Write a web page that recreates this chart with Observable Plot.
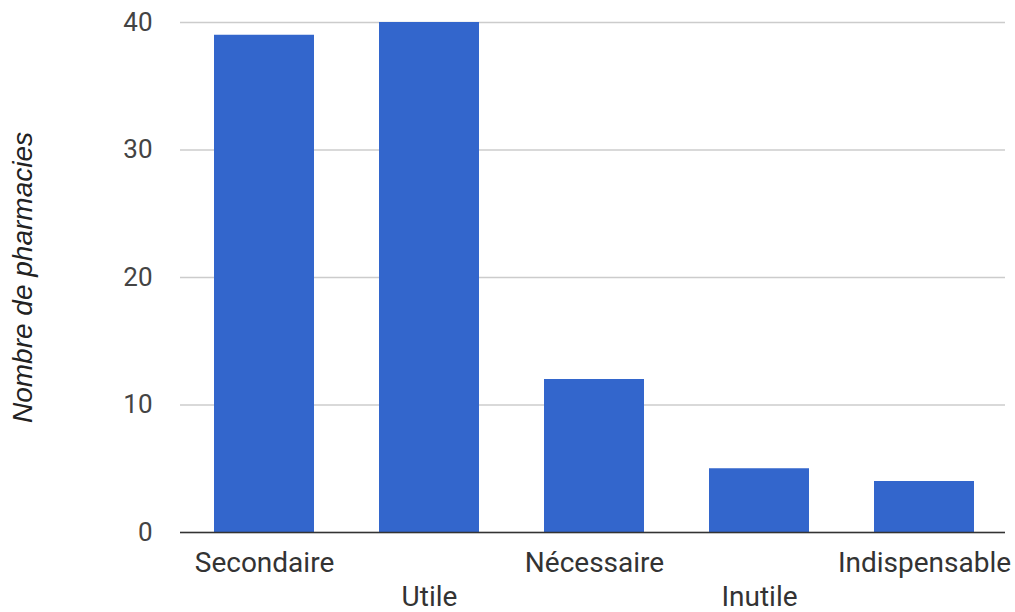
<!DOCTYPE html>
<html><head><meta charset="utf-8">
<script src="https://cdn.jsdelivr.net/npm/d3@7"></script>
<script src="https://cdn.jsdelivr.net/npm/@observablehq/plot@0.6"></script>
<style>body{margin:0;background:#fff}</style>
</head><body><div id="chart"></div>
<script>
const categories = ["Secondaire", "Utile", "Nécessaire", "Inutile", "Indispensable"];
const values = [39, 40, 12, 5, 4];
const yTicks = [0, 10, 20, 30, 40];
const yLabel = "Nombre de pharmacies";

const data = categories.map((c, i) => ({category: c, value: values[i]}));
const upper = categories.filter((c, i) => i % 2 === 0);
const lower = categories.filter((c, i) => i % 2 === 1);

const chart = Plot.plot({
  width: 1015, height: 612,
  marginLeft: 180, marginRight: 10, marginTop: 22, marginBottom: 80,
  style: {fontFamily: "Roboto", background: "#fff"},
  x: {domain: categories, paddingInner: 0.394, paddingOuter: 0.197, align: 0.52},
  y: {domain: [0, 40]},
  marks: [
    Plot.gridY(yTicks, {stroke: "#ccc", strokeOpacity: 1, strokeWidth: 1.5}),
    Plot.barY(data, {x: "category", y: "value", fill: "#3366cc"}),
    Plot.ruleY([0], {stroke: "#333", strokeWidth: 1.5}),
    Plot.axisY(yTicks, {tickSize: 0, tickPadding: 28, fontSize: 26, color: "#444", label: null}),
    Plot.axisX(upper, {tickSize: 0, tickPadding: 20, fontSize: 28, color: "#333", label: null}),
    Plot.axisX(lower, {tickSize: 0, tickPadding: 54, fontSize: 28, color: "#333", label: null}),
    Plot.text([yLabel], {frameAnchor: "left", textAnchor: "middle", lineAnchor: "middle", rotate: -90, dx: -157, fontSize: 28, fontStyle: "italic", fontFamily: "Liberation Sans", fill: "#222"})
  ]
});
document.getElementById("chart").append(chart);
</script>
</body></html>
